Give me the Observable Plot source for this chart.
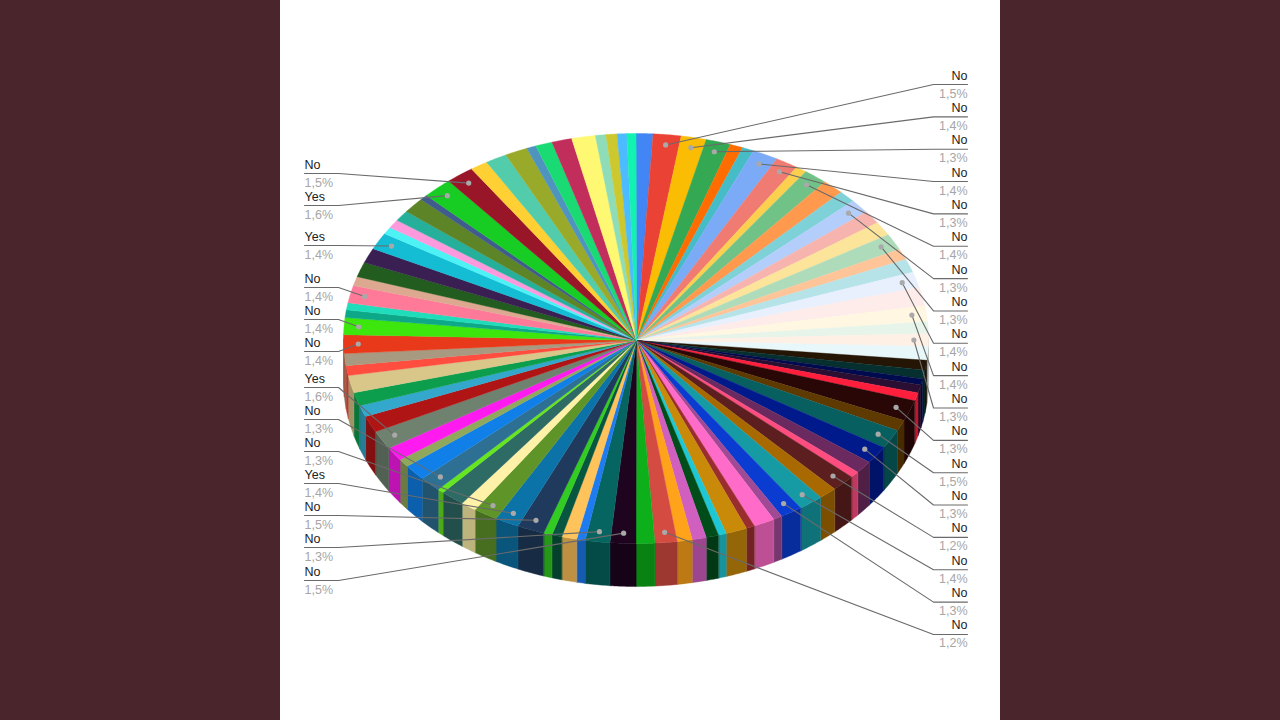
<!DOCTYPE html>
<html><head><meta charset="utf-8">
<script src="https://cdn.jsdelivr.net/npm/d3@7"></script>
<script src="https://cdn.jsdelivr.net/npm/@observablehq/plot@0.6"></script>
<style>
html,body{margin:0;padding:0;width:1280px;height:720px;overflow:hidden;background:#4b252c}
#chart{position:absolute;left:280px;top:0;width:720px;height:720px;background:#fff}
svg{display:block}
</style></head><body><div id="chart"></div>
<script>
// slice shares in percent, clockwise from 12 o'clock
const shares = [
 .93,1.54,1.39,1.37,.71,.64,1.42,1.25,.61,1.31,1.19,.94,1.11,1.03,1.11,1.28,.86,1.06,1.22,1.47,1.25,.92,1.0,1.08,
 .78,.69,.47,.64,.64,1.64,.86,1.5,1.39,1.0,.5,1.31,1.0,1.36,1.22,.5,1.17,.47,1.17,.44,.69,.78,.83,1.22,1.03,
 1.42,1.36,.47,.83,.56,.47,1.5,1.33,1.33,.86,1.33,.36,1.22,1.25,.64,1.08,1.47,1.31,.89,1.06,1.36,.78,.94,1.47,
 1.33,.61,.56,1.36,.72,1.17,1.17,1.33,.56,.67,.86,1.22,.44,1.64,1.56,.97,1.19,1.25,.53,.92,1.11,1.31,.58,.61,.53,.5];
const colors = [
 "#4285F4","#EA4335","#FBBC04","#34A853","#FF6D01","#46BDC6","#7BAAF7","#F07B72","#FCD04F","#71C287","#FF994D","#7ED1D7",
 "#B3CEFB","#F7B4AE","#FDE49B","#AEDCBA","#FFC599","#B5E3E8","#E8F0FE","#FDECEA","#FFF7E1","#E6F4EA","#FFF0E6","#E8F7F9",
 "#241505","#06302F","#000B4F","#2A0F33","#FF1F3D","#2A0707","#5E3A00","#07605F","#001A8C","#6B2A5F","#FF4D80","#5C1E1E",
 "#A86A00","#169AA3","#0A3CD1","#A04A95","#FF6BC8","#9A2E2E","#C98A0A","#1FC7D4","#004D1A","#D15FC0","#FFA31A","#D44B42",
 "#0DB01A","#1F0420","#066560","#1E7BF0","#FFC35C","#07563F","#33CC22","#1F3A5C","#0C73A8","#5F9428","#FFF2A8","#2E6B65",
 "#66E61F","#2E7094","#1080E8","#8FA85C","#FF1AF0","#6F8270","#B01515","#33A8CC","#0D9E4D","#D9C78A","#FF4D40","#A89A80",
 "#E83A1A","#3DE60D","#0DA888","#1FDDBB","#FF7A99","#DDA890","#225C1F","#3A1F52","#14BDD4","#4DF2F5","#FF99DD","#26B09C",
 "#5E8428","#3F5C8C","#17CC22","#991528","#FFD033","#52CCAA","#99AA2A","#4F94BF","#1ADB73","#C22E5C","#FFF873","#8FDDB8",
 "#CCC82E","#4DBBFF","#12F2B0"];
// labelled slices
const rightSlices = [1,2,3,6,7,9,12,15,18,20,22,29,31,32,35,37,38,47];
const rightNames  = ["No","No","No","No","No","No","No","No","No","No","No","No","No","No","No","No","No","No"];
const rightPct    = ["1,5%","1,4%","1,3%","1,4%","1,3%","1,4%","1,3%","1,3%","1,4%","1,4%","1,3%","1,3%","1,5%","1,3%","1,2%","1,4%","1,3%","1,2%"];
const leftSlices  = [87,86,80,76,73,72,65,61,57,56,55,50,49];
const leftNames   = ["No","Yes","Yes","No","No","No","Yes","No","No","Yes","No","No","No"];
const leftPct     = ["1,5%","1,6%","1,4%","1,4%","1,4%","1,4%","1,6%","1,3%","1,3%","1,4%","1,5%","1,3%","1,5%"];
const leftRows    = [164,196,236,278,310,342,378,410,442,474,506,538,571];

// pie geometry in page pixels
const apex = [636,340], cx = 635.5, cy = 338, rx = 292.5, ry = 205, depth = 43, rad = Math.PI/180;
const edge = t => [cx + rx*Math.sin(t*rad), cy - ry*Math.cos(t*rad)];
const total = d3.sum(shares);
let acc = 0;
const slices = shares.map((s,i)=>{const a=acc; acc+=s/total*360; return {i,a,b:acc,color:colors[i]};});
const arc = (a,b)=>{const n=Math.max(2,Math.ceil((b-a)/0.5)); return d3.range(n+1).map(k=>a+(b-a)*k/n);};
const wallColor = c=>{const r=d3.rgb(c); return d3.rgb(r.r*.74,r.g*.74,r.b*.74).formatHex();};

const tops=[], walls=[];
for(const s of slices){
  tops.push({id:s.i,x:apex[0],y:apex[1],color:s.color});
  for(const t of arc(s.a,s.b)){const p=edge(t); tops.push({id:s.i,x:p[0],y:p[1],color:s.color});}
  const a=Math.max(s.a,90), b=Math.min(s.b,270);
  if(b>a){
    const ts=arc(a,b), col=wallColor(s.color);
    for(const t of ts){const p=edge(t); walls.push({id:s.i,x:p[0],y:p[1],color:col});}
    for(const t of ts.slice().reverse()){const p=edge(t); walls.push({id:s.i,x:p[0],y:p[1]+depth,color:col});}
  }
}
const anchor = i=>{const p=edge((slices[i].a+slices[i].b)/2); return [apex[0]+.95*(p[0]-apex[0]),apex[1]+.95*(p[1]-apex[1])];};
const labels=[];
rightSlices.forEach((s,i)=>labels.push({slice:s,name:rightNames[i],pct:rightPct[i],row:75+i*32.35,side:"r"}));
leftSlices.forEach((s,i)=>labels.push({slice:s,name:leftNames[i],pct:leftPct[i],row:leftRows[i],side:"l"}));
const leaders=[], dots=[];
labels.forEach((l,k)=>{
  const p=anchor(l.slice); dots.push({x:p[0],y:p[1]});
  const uy=l.row+9, ex=l.side==="r"?933:338, tx=l.side==="r"?967:304;
  leaders.push({id:k,x:p[0],y:p[1]},{id:k,x:ex,y:uy},{id:k,x:tx,y:uy});
  l.tx=tx;
});
const font="Liberation Sans, Arial, sans-serif";
const txt=(side,anchorName)=>({x:"tx",textAnchor:anchorName,fontFamily:font,fontSize:12.5});
const pick=s=>labels.filter(l=>l.side===s);
const chart=Plot.plot({
  width:720,height:720,margin:0,
  style:{background:"#fff"},
  x:{domain:[280,1000],range:[0,720],axis:null},
  y:{domain:[0,720],range:[0,720],axis:null},
  color:{type:"identity"},
  marks:[
    Plot.line(walls,{x:"x",y:"y",z:"id",fill:"color",stroke:"color",strokeWidth:.4,curve:"linear-closed"}),
    Plot.line(tops,{x:"x",y:"y",z:"id",fill:"color",stroke:"color",strokeWidth:.4,curve:"linear-closed"}),
    Plot.line(leaders,{x:"x",y:"y",z:"id",stroke:"#6a6a6a",strokeWidth:1.1}),
    Plot.dot(dots,{x:"x",y:"y",r:2.6,fill:"#a9a9a9",stroke:"none"}),
    ...["r","l"].flatMap(s=>{const a=s==="r"?"end":"start"; return [
      Plot.text(pick(s),{...txt(s,a),y:"row",text:"name",fill:"#222"}),
      Plot.text(pick(s),{...txt(s,a),y:d=>d.row+18,text:"pct",fill:"#a6a6a6"})
    ];})
  ]
});
document.getElementById("chart").appendChild(chart);
</script></body></html>
